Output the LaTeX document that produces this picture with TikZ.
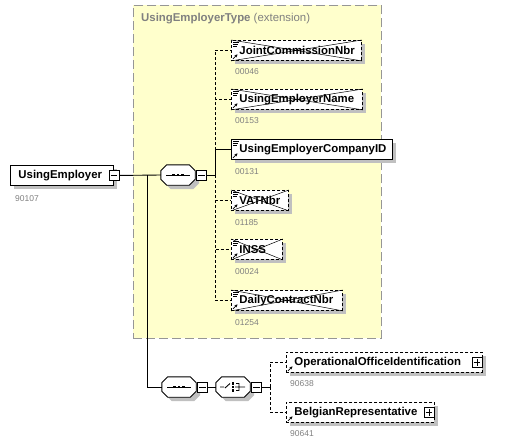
\documentclass[tikz,border=0pt]{standalone}
\usepackage{fontspec}
\setmainfont{Liberation Sans}
\usetikzlibrary{calc,shadows,arrows.meta}
\definecolor{ybg}{RGB}{255,255,204}
\definecolor{ybord}{RGB}{150,150,150}
\definecolor{shd}{RGB}{192,192,192}
\definecolor{lblgray}{RGB}{128,128,128}
\newcommand\efont{\fontsize{11.4}{13}\selectfont\bfseries}
\newcommand\lfont{\fontsize{8.5}{10}\selectfont}
\tikzset{
  shad/.style={drop shadow={shadow xshift=4pt,shadow yshift=-4pt,fill=shd,opacity=1}},
  elem/.style={draw=black,fill=white,anchor=north west,minimum height=20pt,
    inner xsep=8pt,inner ysep=0pt,font=\efont,align=left,line width=0.9pt,shad},
  optelem/.style={elem,dash pattern=on 3pt off 2pt},
  lbl/.style={anchor=west,font=\lfont,text=lblgray,inner sep=0pt},
  pmbox/.style={draw=black,fill=white,minimum size=10pt,inner sep=0pt,line width=0.8pt},
  comp/.style={minimum width=34pt,minimum height=20pt,inner sep=0pt},
  conn/.style={line width=0.9pt},
  dconn/.style={line width=0.9pt,dash pattern=on 3pt off 2pt},
  ybox/.style={draw=ybord,fill=ybg,line width=0.9pt,dash pattern=on 9pt off 4pt,
    anchor=north west,inner sep=0pt},
}
\newcommand\minusmark[1]{\draw[line width=0.8pt] ($(#1.west)+(2,0)$) -- ($(#1.east)+(-2,0)$);}
\newcommand\plusmark[1]{\draw[line width=0.8pt] ($(#1.west)+(2,0)$) -- ($(#1.east)+(-2,0)$)
  ($(#1.north)+(0,2)$) -- ($(#1.south)+(0,-2)$);}
\newcommand\simpicon[1]{\draw[line width=0.6pt] ($(#1.north west)+(2,2.5)$) -- +(6,0)
  ($(#1.north west)+(2,4.5)$) -- +(5,0) ($(#1.north west)+(2,6.5)$) -- +(4,0);}
\newcommand\refarrow[1]{\draw[line width=0.8pt,-{Stealth[length=3pt,width=3pt]}]
  ($(#1.south west)+(2,-2)$) -- +(4.5,-4.5);}
\newcommand\crossed[1]{\draw[line width=0.5pt] (#1.north west) -- (#1.south east)
  (#1.south west) -- (#1.north east);}
\newcommand\octa[1]{\draw[fill=white,line width=0.9pt,shad]
  ($(#1.north west)+(6,0)$) -- ($(#1.north east)+(-6,0)$) -- ($(#1.north east)+(0,6)$)
  -- ($(#1.south east)+(0,-6)$) -- ($(#1.south east)+(-6,0)$) -- ($(#1.south west)+(6,0)$)
  -- ($(#1.south west)+(0,-6)$) -- ($(#1.north west)+(0,6)$) -- cycle;}
\newcommand\seqicon[1]{\draw[line width=0.9pt] ($(#1.center)+(-12,0)$) -- ($(#1.center)+(12,0)$);
  \foreach \dx in {-4.5,0,4.5}{\fill ($(#1.center)+(\dx,0)+(-1.3,-1.3)$) rectangle +(2.6,2.6);}}
\newcommand\choiceicon[1]{\draw[line width=0.9pt] ($(#1.center)+(-13,0)$) -- ($(#1.center)+(-9,0)$)
  ($(#1.center)+(-8,1)$) -- ($(#1.center)+(-3,-3.5)$)
  ($(#1.center)+(3,-3.5)$) -- ($(#1.center)+(6,-3.5)$) -- ($(#1.center)+(6,3.5)$) -- ($(#1.center)+(3,3.5)$)
  ($(#1.center)+(2,0)$) -- ($(#1.center)+(12,0)$);
  \foreach \dy in {-3.5,0,3.5}{\fill ($(#1.center)+(0,\dy)+(-1.3,-1.3)$) rectangle +(2.6,2.6);}}
\begin{document}
\begin{tikzpicture}[x=1pt,y=-1pt]
\useasboundingbox (0,0) rectangle (514,444);
% extension type box
\node[ybox,minimum width=248pt,minimum height=333pt] (T) at (133,5) {};
\node[anchor=west,inner sep=0pt,text=lblgray,font=\fontsize{11.4}{13}\selectfont] (Ttitle) at (141,19)
  {\textbf{UsingEmployerType} (extension)};
% root element
\node[elem,text width=87pt] (UE) at (10,165) {UsingEmployer};
\node[pmbox] (UEm) at (UE.east) {}; \minusmark{UEm}
\node[lbl] (UEl) at ($(UE.south west)+(5,13)$) {90107};
% sequence 1
\node[comp] (seqA) at (178,175) {}; \octa{seqA} \seqicon{seqA}
\node[pmbox,anchor=west] (seqAm) at ($(seqA.east)+(1,0)$) {}; \minusmark{seqAm}
% sequence 2 and choice
\node[comp] (seqB) at (179,387) {}; \octa{seqB} \seqicon{seqB}
\node[pmbox,anchor=west] (seqBm) at ($(seqB.east)+(1,0)$) {}; \minusmark{seqBm}
\node[comp] (ch) at (233,387) {}; \octa{ch} \choiceicon{ch}
\node[pmbox,anchor=west] (chm) at ($(ch.east)+(1,0)$) {}; \minusmark{chm}
% children of sequence 1
\node[optelem,text width=114pt] (JCN) at (231,40) {JointCommissionNbr};
\node[optelem,text width=115pt] (UEN) at (231,89) {UsingEmployerName};
\node[elem,text width=145pt] (CID) at (231,139) {UsingEmployerCompanyID};
\node[optelem,text width=41pt] (VAT) at (231,190) {VATNbr};
\node[optelem,text width=35pt] (INSS) at (231,239) {INSS};
\node[optelem,text width=95pt] (DCN) at (231,290) {DailyContractNbr};
\foreach \n in {JCN,UEN,CID,VAT,INSS,DCN}{\simpicon{\n}\refarrow{\n}}
\crossed{JCN}\crossed{UEN}\crossed{VAT}\crossed{INSS}\crossed{DCN}
\node[lbl] (JCNl) at ($(JCN.south west)+(4,11)$) {00046};
\node[lbl] (UENl) at ($(UEN.south west)+(4,11)$) {00153};
\node[lbl] (CIDl) at ($(CID.south west)+(4,12)$) {00131};
\node[lbl] (VATl) at ($(VAT.south west)+(4,12)$) {01185};
\node[lbl] (INSSl) at ($(INSS.south west)+(4,12)$) {00024};
\node[lbl] (DCNl) at ($(DCN.south west)+(4,12)$) {01254};
% children of choice
\node[optelem,text width=180pt] (OOI) at (286,352) {OperationalOfficeIdentification};
\node[pmbox] (OOIp) at ($(OOI.east)+(-6,0)$) {}; \plusmark{OOIp}
\node[optelem,text width=132pt] (BR) at (286,402) {BelgianRepresentative};
\node[pmbox] (BRp) at ($(BR.east)+(-6,0)$) {}; \plusmark{BRp}
\refarrow{OOI}\refarrow{BR}
\node[lbl] (OOIl) at ($(OOI.south west)+(4,11)$) {90638};
\node[lbl] (BRl) at ($(BR.south west)+(4,11)$) {90641};
% connectors
\coordinate (j1) at (147,175);
\coordinate (t1) at (215,175);
\coordinate (t2) at (270,387);
\draw[conn] (UEm.east) -- (seqA.west);
\draw[conn] (j1) |- (seqB.west);
\draw[conn] (seqAm.east) -- (t1);
\draw[dconn] (t1) |- (JCN.west);
\draw[dconn] (t1) |- (UEN.west);
\draw[dconn] (t1) |- (VAT.west);
\draw[dconn] (t1) |- (INSS.west);
\draw[dconn] (t1) |- (DCN.west);
\draw[conn] (t1) |- (CID.west);
\draw[conn] (seqBm.east) -- (ch.west);
\draw[conn] (chm.east) -- (t2);
\draw[dconn] (t2) |- (OOI.west);
\draw[dconn] (t2) |- (BR.west);
\end{tikzpicture}
\end{document}
